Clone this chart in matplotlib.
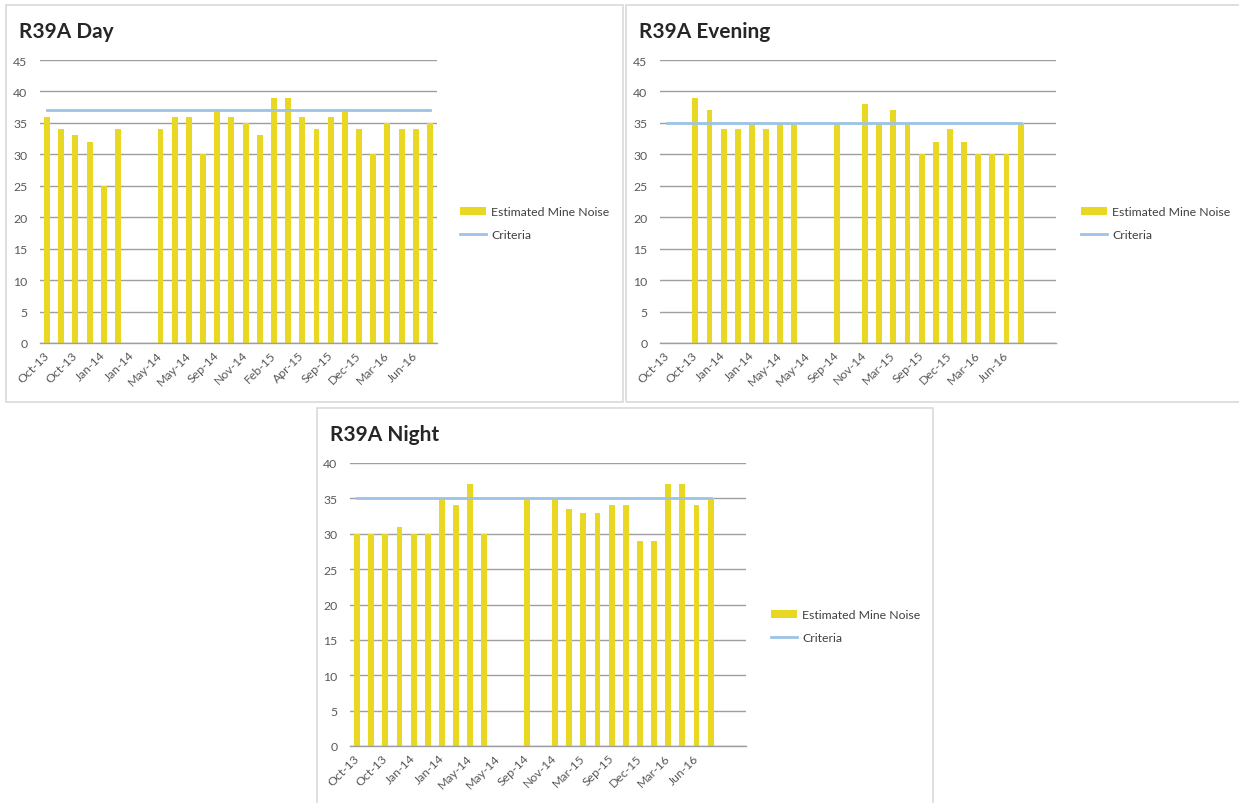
import numpy as np
import matplotlib
matplotlib.use("Agg")
import matplotlib.pyplot as plt
from matplotlib.patches import Rectangle, Patch
from matplotlib.lines import Line2D

plt.rcParams['font.family'] = ['Lato', 'DejaVu Sans']

N_SLOTS = 28
NAN = None

day_tick_labels = ["Oct-13", "Oct-13", "Jan-14", "Jan-14", "May-14", "May-14", "Sep-14",
                   "Nov-14", "Feb-15", "Apr-15", "Sep-15", "Dec-15", "Mar-16", "Jun-16"]
day_noise = [36, 34, 33, 32, 25, 34, NAN, NAN, 34, 36, 36, 30, 37, 36,
             35, 33, 39, 39, 36, 34, 36, 37, 34, 30, 35, 34, 34, 35]
day_criteria = [37, 37, 37, 37, 37, 37, 37, 37, 37, 37, 37, 37, 37, 37,
                37, 37, 37, 37, 37, 37, 37, 37, 37, 37, 37, 37, 37, 37]

eve_tick_labels = ["Oct-13", "Oct-13", "Jan-14", "Jan-14", "May-14", "May-14", "Sep-14",
                   "Nov-14", "Mar-15", "Sep-15", "Dec-15", "Mar-16", "Jun-16"]
eve_noise = [NAN, NAN, 39, 37, 34, 34, 35, 34, 35, 35, NAN, NAN, 35, NAN,
             38, 35, 37, 35, 30, 32, 34, 32, 30, 30, 30, 35, NAN, NAN]
eve_criteria = [35, 35, 35, 35, 35, 35, 35, 35, 35, 35, 35, 35, 35, 35,
                35, 35, 35, 35, 35, 35, 35, 35, 35, 35, 35, 35, NAN, NAN]

night_tick_labels = ["Oct-13", "Oct-13", "Jan-14", "Jan-14", "May-14", "May-14", "Sep-14",
                     "Nov-14", "Mar-15", "Sep-15", "Dec-15", "Mar-16", "Jun-16"]
night_noise = [30, 30, 30, 31, 30, 30, 35, 34, 37, 30, NAN, NAN, 35, NAN,
               35, 33.5, 33, 33, 34, 34, 29, 29, 37, 37, 34, 35, NAN, NAN]
night_criteria = [35, 35, 35, 35, 35, 35, 35, 35, 35, 35, 35, 35, 35, 35,
                  35, 35, 35, 35, 35, 35, 35, 35, 35, 35, 35, 35, NAN, NAN]

W, H = 1239, 804
fig = plt.figure(figsize=(W / 100, H / 100), dpi=100)
fig.patch.set_facecolor('white')

BAR_COLOR = '#E8D823'
LINE_COLOR = '#9DC3E6'
GRID_COLOR = '#9E9E9E'
TEXT_COLOR = '#595959'
BORDER = '#D9D9D9'
FS = 8.8


def px_rect(x0, y0, x1, y1):
    return [x0 / W, 1 - y1 / H, (x1 - x0) / W, (y1 - y0) / H]


def border(x0, y0, x1, y1):
    fig.patches.append(Rectangle((x0 / W, 1 - y1 / H), (x1 - x0) / W, (y1 - y0) / H,
                                 transform=fig.transFigure, fill=False,
                                 edgecolor=BORDER, linewidth=1.2, zorder=0))


def panel(box, plot, title, noise, criteria, tick_labels, ymax, legend_xy):
    border(*box)
    fig.text((box[0] + 13) / W, 1 - (box[1] + 26) / H, title, fontsize=15,
             fontweight='bold', color='#262626', ha='left', va='center')
    ax = fig.add_axes(px_rect(*plot))
    x = np.arange(N_SLOTS)
    vals = np.array([np.nan if v is None else v for v in noise], dtype=float)
    crit = np.array([np.nan if v is None else v for v in criteria], dtype=float)
    ax.bar(x, vals, width=0.42, color=BAR_COLOR, zorder=2)
    ax.plot(x, crit, color=LINE_COLOR, linewidth=2.0, zorder=3)
    ax.set_xlim(-0.5, N_SLOTS - 0.5)
    ax.set_ylim(0, ymax)
    ax.set_yticks(np.arange(0, ymax + 1, 5))
    ax.yaxis.grid(True, color=GRID_COLOR, linewidth=1.0, zorder=0)
    ax.set_axisbelow(True)
    for s in ['top', 'right', 'left']:
        ax.spines[s].set_visible(False)
    ax.spines['bottom'].set_color(GRID_COLOR)
    ax.spines['bottom'].set_linewidth(1.0)
    ax.set_xticks(np.arange(0, 2 * len(tick_labels), 2))
    ax.set_xticklabels(tick_labels, rotation=45, ha='right', va='center',
                       rotation_mode='anchor')
    ax.tick_params(axis='both', length=0, labelsize=FS, colors=TEXT_COLOR)
    ax.tick_params(axis='y', pad=9)
    ax.tick_params(axis='x', pad=7)
    handles = [Patch(facecolor=BAR_COLOR, edgecolor='none'),
               Line2D([0], [0], color=LINE_COLOR, linewidth=2.0)]
    ax.legend(handles, ['Estimated Mine Noise', 'Criteria'], loc='center left',
              bbox_to_anchor=(legend_xy[0] / W, 1 - legend_xy[1] / H),
              bbox_transform=fig.transFigure, frameon=False, fontsize=FS,
              handlelength=2.1, handleheight=0.6, handletextpad=0.45,
              labelspacing=0.95, labelcolor='#404040', borderpad=0, borderaxespad=0)
    return ax


panel((6, 6, 623, 403), (40, 61, 437, 344), 'R39A Day', day_noise, day_criteria,
      day_tick_labels, 45, (460, 224))
panel((626, 6, 1260, 403), (660, 61, 1056, 344), 'R39A Evening', eve_noise, eve_criteria,
      eve_tick_labels, 45, (1081, 224))
panel((317, 409, 933, 830), (350, 464, 746, 747), 'R39A Night', night_noise, night_criteria,
      night_tick_labels, 40, (771, 627))

fig.savefig('out.png', dpi=100, facecolor='white')
